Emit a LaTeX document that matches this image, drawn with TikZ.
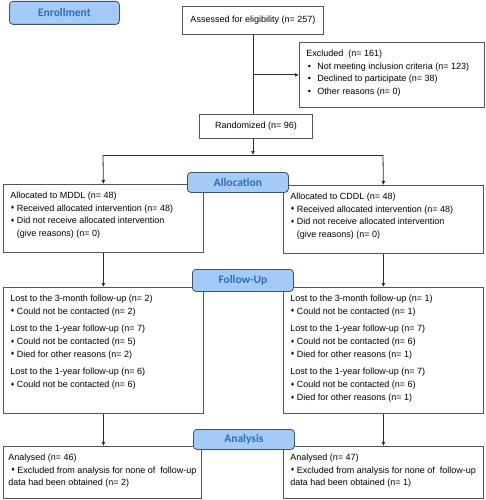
\documentclass[tikz,border=0pt]{standalone}
\usepackage{fontspec}
\setmainfont{Liberation Sans}
\newfontfamily\headfont{Carlito}
\newfontfamily\symfont{DejaVu Sans}
\usepackage{tikz}
\usetikzlibrary{arrows.meta}
\definecolor{stagefill}{RGB}{164,202,248}
\definecolor{stageline}{RGB}{62,82,105}
\definecolor{stagetext}{RGB}{46,110,182}
\definecolor{boxline}{RGB}{85,85,85}
\definecolor{linkline}{RGB}{45,45,45}
\tikzstyle{box}=[draw=boxline, line width=0.8pt, fill=white, anchor=north west, inner xsep=7pt, inner ysep=0pt, font=\fontsize{9}{12.7}\selectfont]
\tikzstyle{onebox}=[draw=boxline, line width=0.8pt, fill=white, anchor=north west, inner sep=0pt, font=\fontsize{9}{11}\selectfont]
\tikzstyle{stage}=[draw=stageline, line width=0.8pt, fill=stagefill, rounded corners=3.5pt, anchor=north west, inner sep=0pt, text=stagetext, font=\headfont\bfseries\fontsize{11.5}{13}\selectfont]
\tikzstyle{arrow}=[draw=linkline, line width=0.8pt, >={Latex[length=4pt, width=4pt]}]
\newcommand{\boxtxt}[3]{\parbox[c][#2][t]{#1}{\raggedright\vspace*{7.5pt}#3}}
\newcommand{\dmd}{\makebox[6.5pt][l]{\raisebox{1.3pt}{\symfont\fontsize{5}{5}\selectfont ♦}}}
\newcommand{\rnd}{\makebox[11pt][l]{\hspace{1.4pt}•}}

\begin{document}
\begin{tikzpicture}[x=1pt, y=-1pt]
		\useasboundingbox (0,0) rectangle (486,500);
		\begin{scope}
			\node (assess) at (182,6)[onebox, minimum width=141pt, minimum height=28pt] {Assessed for eligibility (n= 257)};
			\node (excl) at (299,42)[box] {\boxtxt{171pt}{65pt}{Excluded\ \ (n= 161)\\
				\rnd Not meeting inclusion criteria (n= 123)\\
				\rnd Declined to participate (n= 38)\\
				\rnd Other reasons (n= 0)}};
			\node (rand) at (199,114)[onebox, minimum width=113pt, minimum height=24pt] {Randomized (n= 96)};
			\node (allocL) at (3,184)[box] {\boxtxt{186pt}{68pt}{Allocated to MDDL (n= 48)\\
				\dmd Received allocated intervention (n= 48)\\
				\dmd Did not receive allocated intervention\\
				\hspace*{6.5pt}(give reasons) (n= 0)}};
			\node (allocR) at (283,185)[box] {\boxtxt{186pt}{68pt}{Allocated to CDDL (n= 48)\\
				\dmd Received allocated intervention (n= 48)\\
				\dmd Did not receive allocated intervention\\
				\hspace*{6.5pt}(give reasons) (n= 0)}};
			\node (fuL) at (3,287)[box] {\boxtxt{186pt}{126pt}{Lost to the 3-month follow-up (n= 2)\\
				\dmd Could not be contacted (n= 2)\\[5pt]
				Lost to the 1-year follow-up (n= 7)\\
				\dmd Could not be contacted (n= 5)\\
				\dmd Died for other reasons (n= 2)\\[5pt]
				Lost to the 1-year follow-up (n= 6)\\
				\dmd Could not be contacted (n= 6)}};
			\node (fuR) at (283,287)[box] {\boxtxt{186pt}{126pt}{Lost to the 3-month follow-up (n= 1)\\
				\dmd Could not be contacted (n= 1)\\[5pt]
				Lost to the 1-year follow-up (n= 7)\\
				\dmd Could not be contacted (n= 6)\\
				\dmd Died for other reasons (n= 1)\\[5pt]
				Lost to the 1-year follow-up (n= 7)\\
				\dmd Could not be contacted (n= 6)\\
				\dmd Died for other reasons (n= 1)}};
			\node (anaL) at (3,446)[box, inner xsep=5pt] {\boxtxt{188pt}{52pt}{Analysed (n= 46)\\
				\hspace*{2.5pt}\dmd Excluded from analysis for none of\ \ follow-up\\
				data had been obtained (n= 2)}};
			\node (anaR) at (283,446)[box] {\boxtxt{186pt}{52pt}{Analysed (n= 47)\\
				\dmd Excluded from analysis for none of\ \ follow-up\\
				data had been obtained (n= 1)}};
			% stage labels on top
			\node (enroll) at (9,1)[stage, minimum width=110pt, minimum height=23pt] {Enrollment};
			\node (alloc) at (187,172)[stage, minimum width=101pt, minimum height=20pt] {Allocation};
			\node (follow) at (192,269)[stage, minimum width=101pt, minimum height=22pt] {Follow-Up};
			\node (analysis) at (193,429)[stage, minimum width=101pt, minimum height=20pt] {Analysis};
			\coordinate (splitM) at (253,155);
			\coordinate (splitL) at (103,155);
			\coordinate (splitR) at (383,155);
		\end{scope}
		\begin{scope}
			\draw [arrow] (assess.south) -- (assess.south |- rand.north);
			\draw [arrow, ->] (assess.south |- excl.west) -- (excl.west);
			\draw [arrow, ->] (splitM |- rand.south) -- (splitM);
			\draw [arrow] (splitL) -- (splitR);
			\draw [arrow, ->] (splitL) -- (allocL.north);
			\draw [arrow, ->] (splitR) -- (allocR.north);
			\draw [arrow, ->] (allocL.south) -- (fuL.north);
			\draw [arrow, ->] (allocR.south) -- (allocR.south |- fuR.north);
			\draw [arrow, ->] (fuL.south) -- (fuL.south |- anaL.north);
			\draw [arrow, ->] (fuR.south) -- (fuR.south |- anaR.north);
		\end{scope}
\end{tikzpicture}
\end{document}
